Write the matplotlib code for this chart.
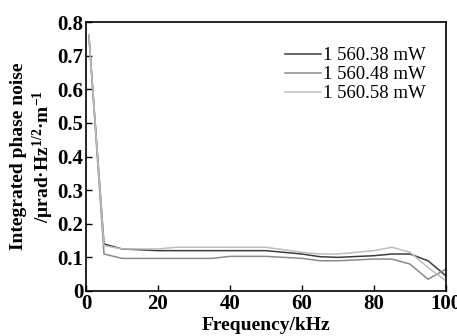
import matplotlib
matplotlib.use("Agg")
import matplotlib.pyplot as plt

# data
freq_a = [0.8, 5, 10, 20, 30, 40, 50, 60, 65, 70, 80, 85, 90, 95, 100]
noise_a = [0.76, 0.14, 0.125, 0.12, 0.12, 0.12, 0.12, 0.11, 0.102, 0.10, 0.105, 0.11, 0.11, 0.09, 0.045]

freq_b = [0.8, 5, 10, 20, 35, 40, 50, 60, 65, 70, 80, 85, 90, 95, 100]
noise_b = [0.76, 0.11, 0.097, 0.097, 0.097, 0.103, 0.103, 0.097, 0.09, 0.09, 0.095, 0.095, 0.08, 0.035, 0.065]

freq_c = [0.8, 5, 10, 20, 25, 40, 50, 60, 65, 70, 80, 85, 90, 95, 100]
noise_c = [0.76, 0.135, 0.125, 0.125, 0.13, 0.13, 0.13, 0.115, 0.11, 0.11, 0.12, 0.13, 0.115, 0.07, 0.03]

labels = ["1 560.38 mW", "1 560.48 mW", "1 560.58 mW"]
colors = ["#3c3c3c", "#8a8a8a", "#bdbdbd"]

plt.rcParams["font.family"] = ["Liberation Serif", "DejaVu Serif"]
plt.rcParams["mathtext.default"] = "regular"

fig = plt.figure(figsize=(4.57, 3.36), dpi=100)
ax = fig.add_axes([86 / 457, 45 / 336, 360 / 457, 269 / 336])

ax.plot(freq_a, noise_a, color=colors[0], lw=1.1, label=labels[0])
ax.plot(freq_b, noise_b, color=colors[1], lw=1.1, label=labels[1])
ax.plot(freq_c, noise_c, color=colors[2], lw=1.1, label=labels[2])

ax.set_xlim(0, 100)
ax.set_ylim(0, 0.8)
ax.set_xticks([0, 20, 40, 60, 80, 100])
ax.set_xticklabels(["0", "20", "40", "60", "80", "100"])
ax.set_yticks([0, 0.1, 0.2, 0.3, 0.4, 0.5, 0.6, 0.7, 0.8])
ax.set_yticklabels(["0", "0.1", "0.2", "0.3", "0.4", "0.5", "0.6", "0.7", "0.8"])
ax.tick_params(direction="in", length=4, width=1, labelsize=15, pad=2)
for lab in ax.get_xticklabels() + ax.get_yticklabels():
    lab.set_fontweight("bold")
for s in ax.spines.values():
    s.set_linewidth(1.2)

ax.set_xlabel("Frequency/kHz", fontsize=14, fontweight="bold", labelpad=2)
ax.set_ylabel("Integrated phase noise\n/μrad·Hz$^{1/2}$·m$^{-1}$",
              fontsize=14, fontweight="bold", linespacing=1.2, labelpad=1)

ax.legend(loc="upper right", frameon=False, fontsize=13.5, handlelength=1.9,
          handletextpad=0.1, labelspacing=0.1, bbox_to_anchor=(0.99, 0.97))

fig.savefig("out.png", dpi=100)
